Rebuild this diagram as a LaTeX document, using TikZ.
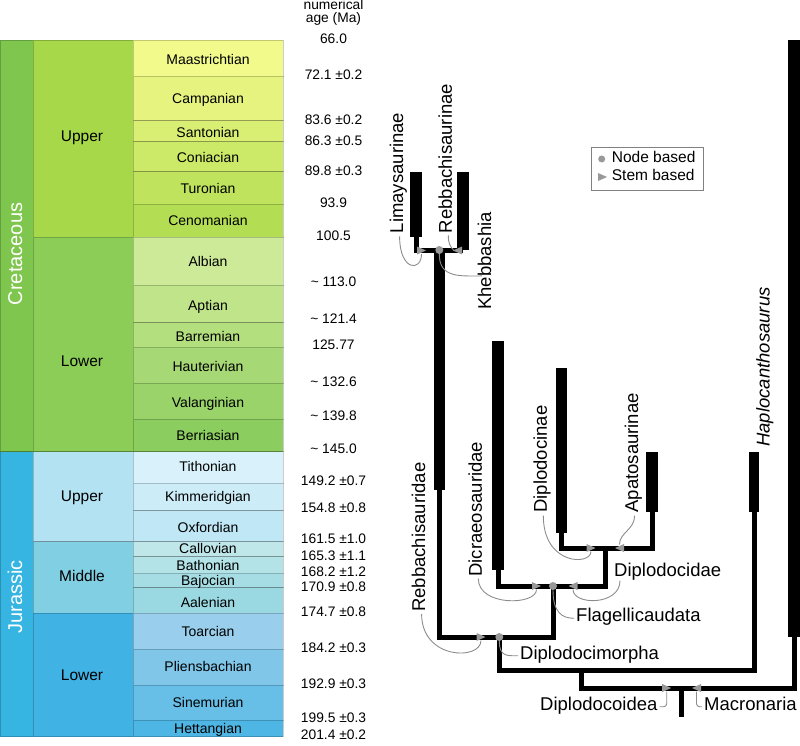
\documentclass[tikz,border=0pt]{standalone}
\usepackage{fontspec}
\setmainfont{Liberation Sans}
\newcommand\FsStage{\fontsize{14}{16}\selectfont}
\newcommand\FsAge{\fontsize{13.8}{12.5}\selectfont}
\newcommand\FsEpoch{\fontsize{15.5}{18}\selectfont}
\newcommand\FsPer{\fontsize{20}{24}\selectfont}
\newcommand\FsTree{\fontsize{18.5}{22}\selectfont}
\newcommand\FsLeg{\fontsize{15.5}{18}\selectfont}
\newcommand\TriR[1]{\fill[black!40] (#1) ++(-4.5,-4) -- ++(9,4) -- ++(-9,4) -- cycle;}
\newcommand\TriL[1]{\fill[black!40] (#1) ++(4.5,-4) -- ++(-9,4) -- ++(9,4) -- cycle;}
\definecolor{Cretaceous}{HTML}{7FC64E}
\definecolor{Jurassic}{HTML}{36B4E2}
\definecolor{UpperK}{HTML}{A6D84A}
\definecolor{LowerK}{HTML}{8CCD57}
\definecolor{UpperJ}{HTML}{B3E3F2}
\definecolor{MiddleJ}{HTML}{80CFE2}
\definecolor{LowerJ}{HTML}{40B2E4}
\definecolor{Maastrichtian}{HTML}{F2FA8C}
\definecolor{Campanian}{HTML}{E6F47F}
\definecolor{Santonian}{HTML}{D9EF74}
\definecolor{Coniacian}{HTML}{CCE968}
\definecolor{Turonian}{HTML}{BFE35D}
\definecolor{Cenomanian}{HTML}{B3DE53}
\definecolor{Albian}{HTML}{CCEA97}
\definecolor{Aptian}{HTML}{BFE48A}
\definecolor{Barremian}{HTML}{B3DF7F}
\definecolor{Hauterivian}{HTML}{A6D975}
\definecolor{Valanginian}{HTML}{99D36A}
\definecolor{Berriasian}{HTML}{8CCD60}
\definecolor{Tithonian}{HTML}{D9F1FA}
\definecolor{Kimmeridgian}{HTML}{CCECF8}
\definecolor{Oxfordian}{HTML}{BFE7F5}
\definecolor{Callovian}{HTML}{BFE7EA}
\definecolor{Bathonian}{HTML}{B3E2E7}
\definecolor{Bajocian}{HTML}{A6DDE4}
\definecolor{Aalenian}{HTML}{9AD9E2}
\definecolor{Toarcian}{HTML}{99CFEC}
\definecolor{Pliensbachian}{HTML}{80C6E9}
\definecolor{Sinemurian}{HTML}{67BEE6}
\definecolor{Hettangian}{HTML}{4EB6E4}
\begin{document}
\begin{tikzpicture}[x=1pt,y=-1pt,
  cell/.style={draw=black,draw opacity=0.2,line width=0.8pt},
  txt/.style={inner sep=0pt,text height=0.716em,text depth=0pt},
  stagetxt/.style={txt,font=\FsStage},
  agetxt/.style={txt,font=\FsAge},
  epochtxt/.style={txt,font=\FsEpoch},
  pertxt/.style={txt,font=\FsPer,text=white,rotate=90},
  taxon/.style={txt,font=\FsTree},
  vtaxon/.style={taxon,rotate=90,anchor=west},
  thinln/.style={line width=5pt},
  barln/.style={line width=11.5pt},
  lead/.style={draw=black!45,line width=0.9pt},
  dotm/.style={circle,fill=black!40,minimum size=8pt,inner sep=0pt},
]
\useasboundingbox (0,0) rectangle (800,746);
% ---------- periods
\path[fill=Cretaceous,cell] (0,40) rectangle (33,451.7);
\path[fill=Jurassic,cell] (0,451.7) rectangle (33,736.7);
\node[pertxt] (pK) at (18.5,254) {Cretaceous};
\node[pertxt] (pJ) at (18.5,597) {Jurassic};
% ---------- epochs
\path[fill=UpperK,cell] (33,40) rectangle (133,237.3);
\path[fill=LowerK,cell] (33,237.3) rectangle (133,451.7);
\path[fill=UpperJ,cell] (33,451.7) rectangle (133,541.7);
\path[fill=MiddleJ,cell] (33,541.7) rectangle (133,613.3);
\path[fill=LowerJ,cell] (33,613.3) rectangle (133,736.7);
\node[epochtxt] (eUK) at (82,138.3) {Upper};
\node[epochtxt] (eLK) at (82,362.7) {Lower};
\node[epochtxt] (eUJ) at (82,498.3) {Upper};
\node[epochtxt] (eMJ) at (82,578.3) {Middle};
\node[epochtxt] (eLJ) at (82,676.7) {Lower};
% ---------- stages
\foreach \t/\b/\n/\ty in {40/76/Maastrichtian/60.7, 76/120.7/Campanian/100,
  120.7/141.7/Santonian/134, 141.7/171.7/Coniacian/159.3, 171.7/204/Turonian/190,
  204/237.3/Cenomanian/221.7, 237.3/285/Albian/262.7, 285/322.7/Aptian/307.3,
  322.7/347.3/Barremian/338.3, 347.3/383.3/Hauterivian/368.3, 383.3/419.3/Valanginian/404,
  419.3/451.7/Berriasian/436.7, 451.7/483.3/Tithonian/468.3, 483.3/510.7/Kimmeridgian/497.7,
  510.7/541.7/Oxfordian/529, 541.7/556.7/Callovian/550, 556.7/573.3/Bathonian/566.7,
  573.3/587.7/Bajocian/582.3, 587.7/613.3/Aalenian/604, 613.3/649.3/Toarcian/632.7,
  649.3/685/Pliensbachian/668.3, 685/720/Sinemurian/704, 720/736.7/Hettangian/730}{
  \path[fill=\n,cell] (133,\t) rectangle (283,\b);
  \node[stagetxt] (s\n) at (208,\ty) {\n};
}
% ---------- numerical ages
\node[font=\FsAge,align=center,inner sep=0pt,anchor=north] (hdr) at (333.5,-0.5) {numerical\\age (Ma)};
\foreach \y/\a [count=\i] in {40/66.0, 76/72.1 ±0.2, 120.7/83.6 ±0.2, 141.7/86.3 ±0.5,
  171.7/89.8 ±0.3, 204/93.9, 237/100.5, 282.7/\textasciitilde{} 113.0, 320/\textasciitilde{} 121.4,
  346/125.77, 382.7/\textasciitilde{} 132.6, 416.7/\textasciitilde{} 139.8, 450/\textasciitilde{} 145.0,
  481.7/149.2 ±0.7, 509/154.8 ±0.8, 540/161.5 ±1.0, 556.7/165.3 ±1.1, 573/168.2 ±1.2,
  587.7/170.9 ±0.8, 613.3/174.7 ±0.8, 649/184.2 ±0.3, 685/192.9 ±0.3, 719.3/199.5 ±0.3,
  736/201.4 ±0.2}{
  \node[agetxt] (age\i) at (333.5,\y) {\a};
}
% ---------- tree coordinates
\coordinate (limT) at (416,172);   \coordinate (limB) at (416,237);
\coordinate (rbnT) at (463,172);   \coordinate (rbnB) at (463,250);
\coordinate (khe)  at (439.3,250); \coordinate (rbdB) at (439.3,490);
\coordinate (dmo)  at (499.3,637); \coordinate (fla)  at (553,586);
\coordinate (dicT) at (498,341);   \coordinate (dicB) at (498,570);
\coordinate (dcdB) at (605,586);   \coordinate (dcd)  at (605,548);
\coordinate (dinT) at (561.5,368); \coordinate (dinB) at (561.5,533);
\coordinate (apaT) at (652,452);   \coordinate (apaB) at (652,512);
\coordinate (hapT) at (754,452);   \coordinate (hapB) at (754,512);
\coordinate (macT) at (794,40);    \coordinate (macB) at (794,637);
\coordinate (dco)  at (581.7,670); \coordinate (root) at (681.7,688);
\coordinate (rootE) at (681.7,717);
% thin branches
\draw[thinln] (limB) -- ++(0,13) -| (rbnB);
\draw[thinln] (rbdB) -- (rbdB |- dmo) -| (fla);
\draw[thinln] (dicB) |- (dcdB) -- (dcd);
\draw[thinln] (dinB) |- (dcd) -| (apaB);
\draw[thinln] (dmo) -- ++(0,33) -| (hapB);
\draw[thinln] (dco) -- ++(0,18) -| (macB);
\draw[thinln] (root) -- (rootE);
% thick ranges
\draw[barln] (limT) -- (limB);
\draw[barln] (rbnT) -- (rbnB);
\draw[barln] (khe) -- (rbdB);
\draw[barln] (dicT) -- (dicB);
\draw[barln] (dinT) -- (dinB);
\draw[barln] (apaT) -- (apaB);
\draw[barln,line width=10.5pt] (hapT) -- (hapB);
\draw[barln,line width=12pt] (macT) -- (macB);
% ---------- markers (stem-based triangles, node-based dots)
\coordinate (mLim) at (421.5,250.5);
\coordinate (mRbn) at (457.5,250.5);
\coordinate (mRbd) at (481,637);
\coordinate (mDic) at (536.5,586);
\coordinate (mDcd) at (573,586);
\coordinate (mDin) at (591,548);
\coordinate (mApa) at (619.5,548);
\coordinate (mDco) at (666.7,688);
\coordinate (mMac) at (696.5,688);
\TriR{mLim} \TriL{mRbn} \TriR{mRbd} \TriR{mDic} \TriL{mDcd}
\TriR{mDin} \TriL{mApa} \TriR{mDco} \TriL{mMac}
\node[dotm]  (mKhe) at (khe) {};
\node[dotm]  (mDmo) at (dmo) {};
\node[dotm]  (mFla) at (fla) {};
% ---------- taxon labels
\node[vtaxon] (tLim) at (399.6,233.3) {Limaysaurinae};
\node[vtaxon] (tRbn) at (448.3,233.3) {Rebbachisaurinae};
\node[vtaxon] (tKhe) at (487.6,310) {Khebbashia};
\node[vtaxon] (tRbd) at (421.6,612) {Rebbachisauridae};
\node[vtaxon] (tDic) at (478.3,576.7) {Dicraeosauridae};
\node[vtaxon] (tDin) at (543.3,512.7) {Diplodocinae};
\node[vtaxon] (tApa) at (634.6,512.7) {Apatosaurinae};
\node[vtaxon,font=\FsTree\itshape] (tHap) at (766,447) {Haplocanthosaurus};
\node[taxon,anchor=west] (tDcd) at (614,572.7) {Diplodocidae};
\node[taxon,anchor=west] (tFla) at (576,618.3) {Flagellicaudata};
\node[taxon,anchor=west] (tDmo) at (520,655.7) {Diplodocimorpha};
\node[taxon,anchor=west] (tDco) at (540,706.7) {Diplodocoidea};
\node[taxon,anchor=west] (tMac) at (704,706.7) {Macronaria};
% ---------- leaders
\draw[lead] ([yshift=-3pt]tLim.west) .. controls +(0,35) and +(0,18) .. ([yshift=-3.5pt]mLim);
\draw[lead] ([yshift=-2pt]tRbn.west) .. controls +(0,8) and +(-4,-4) .. ([xshift=-3.5pt]mRbn);
\draw[lead] (mKhe.south) .. controls +(0,24) and +(-22,0) .. ([xshift=-2pt,yshift=-15pt]tKhe.north);
\draw[lead] ([yshift=-2pt]tRbd.west) .. controls +(0,46) and +(0,20) .. ([yshift=-3.5pt]mRbd);
\draw[lead] ([yshift=-2pt]tDic.west) .. controls +(0,28) and +(0,16) .. ([yshift=-3.5pt]mDic);
\draw[lead] ([xshift=6pt,yshift=-8pt]tDcd.west) .. controls +(0,25) and +(0,16) .. ([yshift=-3.5pt]mDcd);
\draw[lead] (mFla.south) .. controls +(0,22) and +(-12,0) .. ([xshift=-2pt]tFla.west);
\draw[lead] ([yshift=-3pt]tDin.west) .. controls +(0,50) and +(0,14) .. ([yshift=-3.5pt]mDin);
\draw[lead] ([yshift=-3pt]tApa.west) .. controls +(0,14) and +(0,-12) .. ([yshift=3.5pt]mApa);
\draw[lead] (mDmo.south) .. controls +(0,16) and +(-10,0) .. ([xshift=-2pt]tDmo.west);
\draw[lead,rounded corners=3pt] ([xshift=2pt]tDco.east) -| ([yshift=-3.5pt]mDco);
\draw[lead,rounded corners=3pt] ([xshift=-2pt]tMac.west) -| ([yshift=-3.5pt]mMac);
% ---------- legend
\draw[draw=black!50,line width=0.8pt] (591.7,147.3) rectangle (703.3,190);
\node[dotm,minimum size=7pt] (lgDot) at (601.7,159) {};
\coordinate (lgTri) at (602.5,177);
\TriR{lgTri}
\node[txt,font=\FsLeg,anchor=west] (lgN) at (611.7,159) {Node based};
\node[txt,font=\FsLeg,anchor=west] (lgS) at (611.7,176.7) {Stem based};
\end{tikzpicture}
\end{document}
